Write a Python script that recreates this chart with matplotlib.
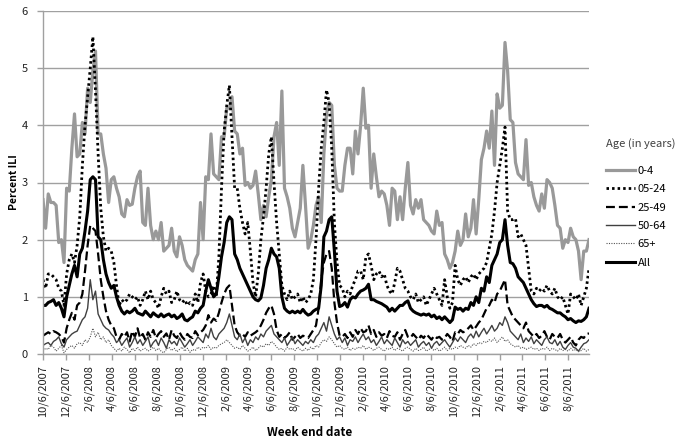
import matplotlib
matplotlib.use("Agg")
import matplotlib.pyplot as plt
import pandas as pd

plt.rcParams['font.family'] = ['Noto Sans CJK KR', 'DejaVu Sans']

week_start = "2007-10-06"
n_weeks = 209

age_0_4 = [
    2.7, 2.2, 2.8, 2.65, 2.65, 2.6, 1.95, 2.0, 1.6, 2.9,
    2.85, 3.6, 4.2, 3.45, 3.5, 4.05, 3.85, 4.65, 4.4, 4.95,
    5.3, 3.85, 3.85, 3.5, 3.25, 2.65, 3.05, 3.1, 2.9, 2.75,
    2.45, 2.4, 2.7, 2.6, 2.62, 2.9, 3.1, 3.2, 2.3, 2.25,
    2.9, 2.25, 2.0, 2.15, 2.0, 2.3, 1.8, 1.85, 1.9, 2.2,
    1.8, 1.7, 2.05, 1.9, 1.65, 1.55, 1.5, 1.45, 1.65, 1.75,
    2.65, 2.0, 3.1, 3.05, 3.85, 3.15, 3.1, 3.05, 3.8, 3.8,
    4.3, 4.3, 4.5, 3.9, 3.85, 3.5, 3.6, 2.95, 3.0, 2.9,
    2.95, 3.2, 2.8, 2.35, 2.6, 2.4, 2.75, 3.05, 3.8, 4.05,
    3.3, 4.6, 2.9, 2.75, 2.55, 2.2, 2.05, 2.3, 2.55, 3.3,
    2.6, 1.85, 2.0, 2.25, 2.6, 2.75, 2.3, 3.5, 4.2, 4.4,
    4.35, 3.3, 2.9, 2.85, 2.85, 3.3, 3.6, 3.6, 3.15, 3.9,
    3.5, 4.0, 4.65, 3.95, 4.0, 2.9, 3.5, 3.1, 2.75, 2.85,
    2.8, 2.6, 2.25, 2.9, 2.85, 2.35, 2.75, 2.35, 2.9, 3.35,
    2.6, 2.45, 2.7, 2.55, 2.7, 2.35, 2.3, 2.25, 2.15, 2.1,
    2.5, 2.25, 2.3, 1.75, 1.65, 1.5, 1.6, 1.8, 2.15, 1.9,
    2.0, 2.45, 2.05, 2.2, 2.7, 2.1, 2.7, 3.4, 3.6, 3.9,
    3.6, 4.25, 3.3, 4.55, 4.3, 4.35, 5.45, 4.95, 4.1, 4.05,
    3.35, 3.15, 3.1, 3.05, 3.75, 2.95, 3.0, 2.75, 2.6, 2.5,
    2.8, 2.55, 3.05, 3.0, 2.9, 2.6, 2.25, 2.2, 1.85, 2.0,
    1.95, 2.2, 2.05, 2.0, 1.8, 1.3, 1.8, 1.8, 2.0,
]

age_05_24 = [
    1.3, 1.15, 1.4, 1.4, 1.35, 1.3, 1.15, 1.1, 0.85, 1.4,
    1.65, 1.75, 1.6, 1.9, 2.4, 3.3, 4.0, 4.5, 5.0, 5.55,
    4.6, 3.5, 2.55, 2.05, 1.8, 1.85, 1.8, 1.6, 1.2, 0.85,
    0.95, 0.9, 0.95, 1.05, 1.0, 0.95, 1.0, 0.85, 0.95, 1.1,
    0.95, 1.1, 0.95, 0.9, 0.8, 1.0, 1.15, 1.05, 1.1, 0.9,
    0.95, 1.1, 0.95, 0.9, 0.95, 0.85, 0.9, 0.85, 1.05, 0.9,
    1.25, 1.4, 1.1, 1.0, 1.05, 1.2, 1.0, 1.7, 2.9, 3.9,
    4.35, 4.7, 3.8, 2.9, 2.9, 2.55, 2.3, 2.1, 2.3, 1.8,
    1.25, 1.0, 1.4, 2.0, 2.4, 2.9, 3.5, 3.8, 3.0, 2.3,
    1.75, 1.2, 1.05, 0.95, 1.1, 0.95, 1.0, 1.05, 0.9, 1.0,
    0.9, 0.95, 1.05, 1.3, 2.0, 2.9, 3.6, 4.05, 4.62, 4.4,
    3.6, 2.3, 1.6, 1.2, 1.15, 1.0, 1.1, 1.05, 1.2, 1.3,
    1.45, 1.45, 1.3, 1.7, 1.75, 1.55, 1.3, 1.4, 1.45, 1.35,
    1.4, 1.2, 1.1, 1.05, 1.25, 1.5, 1.45, 1.3, 1.15, 1.1,
    1.0, 0.95, 1.05, 0.9, 0.95, 1.0, 0.85, 0.95, 1.05, 1.15,
    1.05, 0.95, 0.85, 1.3, 1.0, 0.8, 0.9, 1.55, 1.3, 1.2,
    1.3, 1.35, 1.25, 1.35, 1.4, 1.3, 1.4, 1.45, 1.5, 1.6,
    1.85, 2.1, 2.5, 3.0, 3.3, 3.6, 3.97, 2.5, 2.35, 2.35,
    2.37, 2.05, 2.1, 2.0, 1.9, 1.5, 1.1, 1.05, 1.15, 1.1,
    1.15, 1.1, 1.2, 1.1, 1.05, 1.15, 1.0, 0.95, 1.0, 0.85,
    0.7, 1.05, 1.0, 0.95, 1.05, 0.85, 1.0, 1.15, 1.5,
]

age_25_49 = [
    0.32, 0.35, 0.38, 0.35, 0.4, 0.38, 0.35, 0.3, 0.2, 0.45,
    0.6, 0.72, 0.6, 0.85, 0.9, 1.05, 1.45, 1.9, 2.25, 2.2,
    2.15, 1.75, 1.3, 1.0, 0.75, 0.6, 0.5, 0.45, 0.3, 0.25,
    0.35, 0.3, 0.38, 0.22, 0.4, 0.3, 0.45, 0.28, 0.35, 0.25,
    0.38, 0.3, 0.42, 0.28, 0.35, 0.4, 0.3, 0.36, 0.25, 0.42,
    0.32, 0.28, 0.38, 0.3, 0.25, 0.35, 0.3, 0.28, 0.4, 0.33,
    0.38, 0.42, 0.5, 0.68, 0.55, 0.62, 0.58, 0.72, 0.9, 1.05,
    1.15, 1.2, 0.85, 0.5, 0.38, 0.32, 0.35, 0.3, 0.38, 0.32,
    0.35, 0.38, 0.42, 0.5, 0.6, 0.72, 0.8, 0.85, 0.7, 0.42,
    0.3, 0.35, 0.28, 0.32, 0.38, 0.25, 0.3, 0.35, 0.28, 0.32,
    0.3, 0.28, 0.35, 0.42, 0.5, 0.8, 1.3, 1.6, 1.75, 1.8,
    1.5, 0.9, 0.55, 0.32, 0.3, 0.35, 0.28, 0.38, 0.3, 0.42,
    0.35, 0.45, 0.38, 0.4, 0.5, 0.35, 0.42, 0.3, 0.38, 0.32,
    0.35, 0.28, 0.4, 0.32, 0.3, 0.38, 0.25, 0.35, 0.42, 0.3,
    0.28, 0.35, 0.3, 0.25, 0.32, 0.28, 0.35, 0.3, 0.25, 0.32,
    0.28, 0.3, 0.25, 0.28, 0.35, 0.3, 0.22, 0.38, 0.35, 0.42,
    0.38, 0.4, 0.45, 0.5, 0.42, 0.48, 0.55, 0.6, 0.7, 0.8,
    0.85, 0.95, 0.9, 1.05, 1.1, 1.2, 1.3, 0.85, 0.75, 0.65,
    0.6, 0.55, 0.5, 0.45, 0.55, 0.4, 0.35, 0.3, 0.35, 0.28,
    0.32, 0.4, 0.3, 0.25, 0.35, 0.3, 0.28, 0.35, 0.25, 0.2,
    0.25, 0.3, 0.2, 0.15, 0.25, 0.3, 0.28, 0.35, 0.36,
]

age_50_64 = [
    0.15, 0.18, 0.2, 0.15, 0.22, 0.25, 0.3, 0.18, 0.12, 0.25,
    0.3, 0.35, 0.38, 0.4, 0.5, 0.6, 0.65, 0.8, 1.3, 0.95,
    1.1, 0.7, 0.6, 0.5, 0.45, 0.42, 0.35, 0.3, 0.2, 0.25,
    0.15, 0.22, 0.28, 0.12, 0.2, 0.3, 0.18, 0.25, 0.15, 0.22,
    0.3, 0.12, 0.2, 0.25, 0.15, 0.28, 0.2, 0.1, 0.25, 0.18,
    0.22, 0.15, 0.28, 0.2, 0.12, 0.18, 0.25, 0.15, 0.22, 0.3,
    0.25, 0.2, 0.35, 0.28, 0.45, 0.3, 0.25, 0.35, 0.4, 0.45,
    0.55, 0.7, 0.5, 0.3, 0.25, 0.35, 0.2, 0.28, 0.15, 0.25,
    0.2, 0.3, 0.25, 0.35, 0.3, 0.4, 0.45, 0.5, 0.35, 0.3,
    0.25, 0.2, 0.28, 0.15, 0.22, 0.3, 0.18, 0.25, 0.2, 0.15,
    0.22, 0.18, 0.25, 0.2, 0.3, 0.35, 0.45, 0.55, 0.4, 0.65,
    0.5, 0.35, 0.25, 0.3, 0.2, 0.28, 0.15, 0.25, 0.22, 0.3,
    0.2, 0.28, 0.35, 0.25, 0.3, 0.2, 0.25, 0.15, 0.22, 0.3,
    0.18, 0.25, 0.2, 0.15, 0.28, 0.2, 0.12, 0.25, 0.18, 0.22,
    0.15, 0.2, 0.25, 0.12, 0.18, 0.22, 0.15, 0.2, 0.1, 0.18,
    0.22, 0.15, 0.2, 0.25, 0.18, 0.12, 0.2, 0.28, 0.22, 0.3,
    0.25, 0.2, 0.3, 0.35, 0.28, 0.4, 0.3, 0.38, 0.45, 0.35,
    0.42, 0.5, 0.4, 0.45, 0.55, 0.5, 0.65, 0.55, 0.4, 0.35,
    0.3, 0.25, 0.35, 0.2, 0.28, 0.22, 0.3, 0.18, 0.25, 0.2,
    0.15, 0.25, 0.3, 0.2, 0.18, 0.25, 0.15, 0.22, 0.12, 0.08,
    0.15, 0.2, 0.12, 0.1, 0.05, 0.12, 0.18, 0.2, 0.25,
]

age_65_plus = [
    0.05, 0.1, 0.08, 0.15, 0.12, 0.05, 0.1, 0.15, 0.02, 0.08,
    0.12, 0.15, 0.1, 0.18, 0.2, 0.15, 0.25, 0.2, 0.3, 0.45,
    0.3, 0.38, 0.25, 0.3, 0.2, 0.25, 0.15, 0.1, 0.05, 0.1,
    0.05, 0.12, 0.08, 0.02, 0.1, 0.06, 0.12, 0.05, 0.08, 0.1,
    0.05, 0.08, 0.12, 0.06, 0.1, 0.05, 0.02, 0.08, 0.12, 0.06,
    0.1, 0.04, 0.08, 0.12, 0.05, 0.1, 0.03, 0.08, 0.06, 0.12,
    0.08, 0.12, 0.1, 0.15, 0.08, 0.12, 0.1, 0.15, 0.18, 0.2,
    0.25, 0.2, 0.15, 0.1, 0.12, 0.08, 0.15, 0.1, 0.05, 0.08,
    0.12, 0.06, 0.1, 0.15, 0.12, 0.18, 0.15, 0.22, 0.18, 0.12,
    0.08, 0.1, 0.05, 0.12, 0.08, 0.1, 0.06, 0.12, 0.08, 0.05,
    0.1, 0.06, 0.12, 0.08, 0.15, 0.12, 0.2, 0.25, 0.22, 0.3,
    0.25, 0.18, 0.12, 0.15, 0.1, 0.08, 0.12, 0.06, 0.1, 0.08,
    0.12, 0.1, 0.15, 0.08, 0.12, 0.1, 0.06, 0.1, 0.12, 0.08,
    0.05, 0.1, 0.08, 0.12, 0.06, 0.1, 0.08, 0.05, 0.1, 0.12,
    0.08, 0.05, 0.1, 0.06, 0.08, 0.12, 0.05, 0.08, 0.1, 0.06,
    0.1, 0.05, 0.08, 0.12, 0.06, 0.1, 0.08, 0.12, 0.1, 0.15,
    0.12, 0.1, 0.15, 0.12, 0.18, 0.15, 0.2, 0.18, 0.22, 0.2,
    0.25, 0.22, 0.28, 0.2, 0.25, 0.3, 0.22, 0.25, 0.18, 0.15,
    0.12, 0.15, 0.1, 0.12, 0.08, 0.1, 0.12, 0.08, 0.1, 0.06,
    0.1, 0.08, 0.12, 0.06, 0.1, 0.08, 0.05, 0.1, 0.06, 0.08,
    0.05, 0.1, 0.06, 0.08, 0.04, 0.06, 0.1, 0.05, 0.08,
]

age_all = [
    0.85, 0.85, 0.9, 0.92, 0.95, 0.85, 0.9, 0.8, 0.65, 1.0,
    1.2, 1.4, 1.55, 1.35, 1.75, 1.85, 2.15, 2.5, 3.05, 3.1,
    3.05, 2.05, 2.0, 1.65, 1.4, 1.25, 1.15, 1.2, 1.0, 0.85,
    0.75, 0.7, 0.75, 0.72, 0.75, 0.8, 0.72, 0.7, 0.68, 0.75,
    0.7, 0.65, 0.72, 0.68, 0.65, 0.7, 0.65, 0.68, 0.7, 0.65,
    0.68, 0.62, 0.65, 0.7, 0.6, 0.58, 0.62, 0.65, 0.75, 0.72,
    0.8, 0.85, 1.1, 1.3, 1.15, 1.0, 1.05, 1.35, 1.7, 1.95,
    2.3, 2.4, 2.35, 1.75, 1.65, 1.5, 1.4, 1.3, 1.2, 1.1,
    1.0, 0.95, 0.93, 0.98, 1.2, 1.5, 1.65, 1.85, 1.75, 1.7,
    1.5, 1.0, 0.8, 0.75, 0.72, 0.75, 0.72, 0.75, 0.72, 0.78,
    0.72, 0.68, 0.7, 0.75, 0.78, 0.8, 1.2, 2.05, 2.15, 2.35,
    2.4, 1.8, 1.1, 0.83, 0.85, 0.9, 0.82, 0.95, 1.0, 0.98,
    1.05, 1.1, 1.12, 1.15, 1.22, 0.95, 0.95, 0.92, 0.9, 0.88,
    0.85, 0.82, 0.75, 0.8, 0.75, 0.8, 0.85, 0.85, 0.9, 0.93,
    0.8, 0.75, 0.72, 0.7, 0.68, 0.7, 0.68, 0.7, 0.65, 0.68,
    0.62, 0.65, 0.6, 0.65, 0.6, 0.55, 0.6, 0.82, 0.78, 0.8,
    0.75, 0.8, 0.78, 0.9, 0.85, 1.0, 0.9, 1.15, 1.1, 1.35,
    1.25, 1.55, 1.65, 1.75, 1.95, 2.0, 2.35, 1.9, 1.6, 1.58,
    1.5, 1.35, 1.3, 1.25, 1.15, 1.05, 0.95, 0.88, 0.83, 0.85,
    0.85, 0.82, 0.85, 0.8, 0.78, 0.75, 0.72, 0.72, 0.68, 0.65,
    0.6, 0.62, 0.58, 0.55, 0.58, 0.57, 0.6, 0.65, 0.8,
]

tick_labels = [
    "10/6/2007", "12/6/2007", "2/6/2008", "4/6/2008", "6/6/2008", "8/6/2008",
    "10/6/2008", "12/6/2008", "2/6/2009", "4/6/2009", "6/6/2009", "8/6/2009",
    "10/6/2009", "12/6/2009", "2/6/2010", "4/6/2010", "6/6/2010", "8/6/2010",
    "10/6/2010", "12/6/2010", "2/6/2011", "4/6/2011", "6/6/2011", "8/6/2011",
]
y_ticks = [0, 1, 2, 3, 4, 5, 6]
series_labels = ["0-4", "05-24", "25-49", "50-64", "65+", "All"]

dates = pd.date_range(week_start, periods=n_weeks, freq="7D")
tick_pos = pd.to_datetime(tick_labels, format="%m/%d/%Y")

fig = plt.figure(figsize=(6.86, 4.45), dpi=100)
ax = fig.add_axes([43 / 686, 1 - 354 / 445, (589 - 43) / 686, (354 - 11) / 445])

styles = [
    dict(color="#999999", lw=2.3, ls="-"),
    dict(color="black", lw=2.0, ls=(0, (0.9, 1.1))),
    dict(color="black", lw=1.6, ls=(0, (4, 1.8))),
    dict(color="#404040", lw=1.0, ls="-"),
    dict(color="#555555", lw=0.8, ls=(0, (1, 1.2))),
    dict(color="black", lw=2.2, ls="-"),
]
data = [age_0_4, age_05_24, age_25_49, age_50_64, age_65_plus, age_all]
for vals, lab, st in zip(data, series_labels, styles):
    ax.plot(dates[:len(vals)], vals, label=lab, color=st["color"], lw=st["lw"],
            linestyle=st["ls"])

ax.set_xlim(dates[0], dates[-1])
ax.set_ylim(0, 6)
ax.set_yticks(y_ticks)
ax.set_yticklabels([str(v) for v in y_ticks], fontsize=8, color="#222222")
ax.set_xticks(tick_pos)
ax.set_xticklabels(tick_labels, rotation=90, fontsize=8, color="#222222")
ax.grid(axis="y", color="#a0a0a0", lw=1.0)
ax.set_axisbelow(True)
for side in ["top", "right"]:
    ax.spines[side].set_visible(False)
for side in ["left", "bottom"]:
    ax.spines[side].set_color("#a0a0a0")
    ax.spines[side].set_linewidth(1.0)
ax.tick_params(axis="both", colors="#a0a0a0", length=4, width=1.0,
               labelcolor="#222222")
ax.tick_params(axis="y", pad=7)
ax.tick_params(axis="x", pad=4)

fig.text(14 / 686, 1 - 182 / 445, "Percent ILI", fontsize=7.5,
         fontweight="bold", rotation=90, ha="center", va="center")
fig.text(310 / 686, 1 - 432 / 445, "Week end date", fontsize=8.5,
         fontweight="bold", ha="center", va="center")

leg = fig.legend(loc="upper left", bbox_to_anchor=(602 / 686, 1 - 134 / 445),
                 frameon=False, fontsize=8, title="Age (in years)",
                 title_fontsize=8, handlelength=2.6, handletextpad=0.2,
                 labelspacing=0.75, borderaxespad=0)
leg._legend_box.align = "left"
leg._legend_box.sep = 12
leg.get_title().set_color("#404040")

fig.savefig("out.png", dpi=100)
